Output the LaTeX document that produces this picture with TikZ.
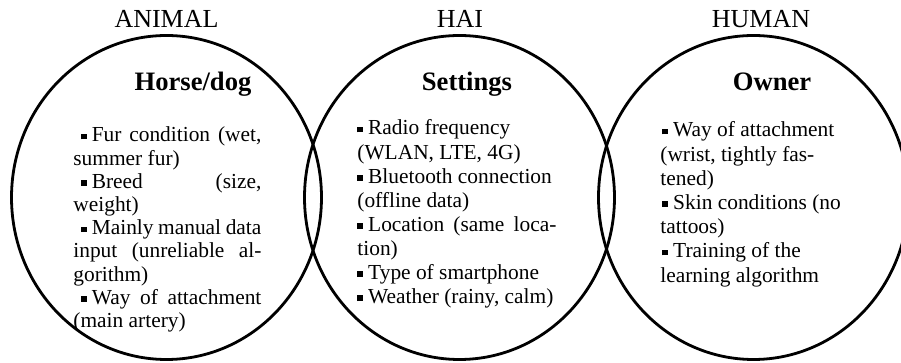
\documentclass[tikz,border=0pt]{standalone}
\usepackage{fontspec}
\setmainfont{Liberation Serif}
\usetikzlibrary{shapes.geometric}
\newcommand{\bl}{\rule[1.3pt]{2.8pt}{2.8pt}\hspace{2.6pt}}
\newcommand{\jl}[1]{\makebox[\linewidth][s]{#1}}
\tikzset{
  set/.style={ellipse, draw, line width=1.4pt, inner sep=0pt, minimum width=155pt, minimum height=162pt},
  cat/.style={anchor=base, inner sep=0pt, font=\fontsize{13}{15}\selectfont},
  head/.style={anchor=base, inner sep=0pt, font=\fontsize{13.3}{15}\selectfont\bfseries},
  body/.style={anchor=base west, inner sep=0pt, font=\fontsize{10.7}{11.6}\selectfont}
}
\begin{document}
\begin{tikzpicture}[x=0.5pt, y=-0.5pt]
\useasboundingbox (0,0) rectangle (901,363);
\clip (0,0) rectangle (901,363);
\node[set] (animal) at (166.5,197.5) {};
\node[set] (hai) at (459.5,197.5) {};
\node[set] (human) at (753.5,197.5) {};

\node[cat] (tanimal) at (166.5,28) {ANIMAL};
\node[cat] (thai) at (460,28) {HAI};
\node[cat] (thuman) at (761,28) {HUMAN};

\node[head] (hhorse) at (193,91) {Horse/dog};
\node[head] (hset) at (467,91) {Settings};
\node[head] (hown) at (772,91) {Owner};

\node[body] (lanimal) at (73,142) {\parbox[t]{94pt}{\fontsize{10.7}{11.6}\selectfont\noindent
\jl{\hspace*{3.8pt}\bl Fur condition (wet,}\\
summer fur)\\
\jl{\hspace*{3.8pt}\bl Breed (size,}\\
weight)\\
\jl{\hspace*{3.8pt}\bl Mainly manual data}\\
\jl{input (unreliable al-}\\
gorithm)\\
\jl{\hspace*{3.8pt}\bl Way of attachment}\\
(main artery)}};

\node[body] (lhai) at (357,135) {\parbox[t]{99.5pt}{\fontsize{10.7}{12.05}\selectfont\noindent
\bl Radio frequency\\
(WLAN, LTE, 4G)\\
\bl Bluetooth connection\\
(offline data)\\
\jl{\bl Location (same loca-}\\
tion)\\
\bl Type of smartphone\\
\bl Weather (rainy, calm)}};

\node[body] (lhuman) at (660,137) {\parbox[t]{95pt}{\fontsize{10.7}{12.1}\selectfont\noindent
\hspace*{1pt}\bl Way of attachment\\
(wrist, tightly fas-\\
tened)\\
\hspace*{1pt}\bl Skin conditions (no\\
tattoos)\\
\hspace*{1pt}\bl Training of the\\
learning algorithm}};
\end{tikzpicture}
\end{document}
